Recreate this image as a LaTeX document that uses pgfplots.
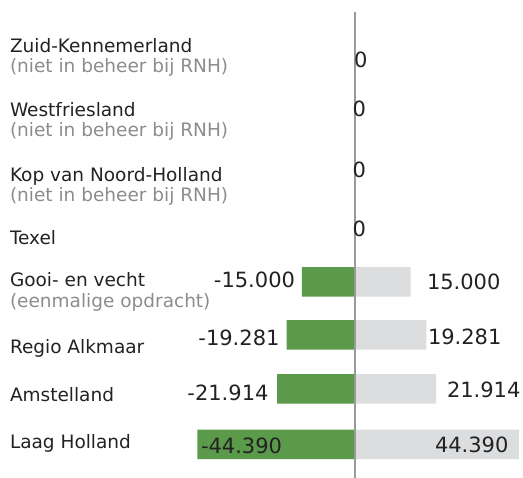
\documentclass[border=0pt]{standalone}
\usepackage{fontspec}
\setmainfont{DejaVu Sans}
\usepackage{pgfplots}
\pgfplotsset{compat=1.18}
\definecolor{barG}{HTML}{5B9A4A}
\definecolor{barY}{HTML}{DCDDDF}
\definecolor{txt}{HTML}{222222}
\definecolor{sub}{HTML}{8C8C8C}
\definecolor{axl}{HTML}{9A9A9A}
\newcommand{\cat}{\fontsize{18.5}{22}\selectfont}
\newcommand{\val}{\fontsize{21}{25}\selectfont}
\begin{document}
\begin{tikzpicture}
\path[use as bounding box] (0,0) rectangle (523pt,478pt);
% left (negative) bars
\begin{axis}[at={(0,0)},anchor=south west,width=523pt,height=478pt,scale only axis,hide axis,
  xmin=-100,xmax=47.324,ymin=-478,ymax=0,clip=false]
\addplot[xbar,bar width=29.5,bar shift=0pt,fill=barG,draw=none] coordinates {
(-15.000,-282) (-19.281,-335) (-21.914,-389) (-44.390,-444.5)};
\end{axis}
% right (positive) bars
\begin{axis}[at={(0,0)},anchor=south west,width=523pt,height=478pt,scale only axis,hide axis,
  xmin=-95.946,xmax=45.405,ymin=-478,ymax=0,clip=false]
\addplot[xbar,bar width=29.5,bar shift=0pt,fill=barY,draw=none] coordinates {
(15.000,-282) (19.281,-335) (21.914,-389) (44.390,-444.5)};
\addplot[axl,line width=2pt,mark=none] coordinates {(0,-12) (0,-478)};
\end{axis}
\begin{scope}[every node/.style={inner sep=0pt,outer sep=0pt}]
% category labels
\node[anchor=base west,text=txt] at (10pt,{(478-53)*1pt}) {\cat Zuid-Kennemerland};
\node[anchor=base west,text=sub] at (10pt,{(478-73)*1pt}) {\cat (niet in beheer bij RNH)};
\node[anchor=base west,text=txt] at (10pt,{(478-117)*1pt}) {\cat Westfriesland};
\node[anchor=base west,text=sub] at (10pt,{(478-137)*1pt}) {\cat (niet in beheer bij RNH)};
\node[anchor=base west,text=txt] at (10pt,{(478-182)*1pt}) {\cat Kop van Noord-Holland};
\node[anchor=base west,text=sub] at (10pt,{(478-202)*1pt}) {\cat (niet in beheer bij RNH)};
\node[anchor=base west,text=txt] at (10pt,{(478-245)*1pt}) {\cat Texel};
\node[anchor=base west,text=txt] at (10pt,{(478-287)*1pt}) {\cat Gooi- en vecht};
\node[anchor=base west,text=sub] at (10pt,{(478-308)*1pt}) {\cat (eenmalige opdracht)};
\node[anchor=base west,text=txt] at (10pt,{(478-354)*1pt}) {\cat Regio Alkmaar};
\node[anchor=base west,text=txt] at (10pt,{(478-402)*1pt}) {\cat Amstelland};
\node[anchor=base west,text=txt] at (10pt,{(478-449)*1pt}) {\cat Laag Holland};
% value labels
\node[anchor=base east,text=txt] at (295pt,{(478-288)*1pt}) {\val -15.000};
\node[anchor=base east,text=txt] at (279.5pt,{(478-345.7)*1pt}) {\val -19.281};
\node[anchor=base east,text=txt] at (268.5pt,{(478-400.7)*1pt}) {\val -21.914};
\node[anchor=base west,text=txt] at (201pt,{(478-453.3)*1pt}) {\val -44.390};
\node[anchor=base west,text=txt] at (427pt,{(478-289.3)*1pt}) {\val 15.000};
\node[anchor=base west,text=txt] at (428pt,{(478-345)*1pt}) {\val 19.281};
\node[anchor=base west,text=txt] at (447pt,{(478-397.3)*1pt}) {\val 21.914};
\node[anchor=base west,text=txt] at (435pt,{(478-452.7)*1pt}) {\val 44.390};
\node[anchor=base west,text=txt] at (354pt,{(478-68)*1pt}) {\val 0};
\node[anchor=base west,text=txt] at (352.5pt,{(478-117)*1pt}) {\val 0};
\node[anchor=base west,text=txt] at (352.5pt,{(478-178)*1pt}) {\val 0};
\node[anchor=base west,text=txt] at (352.5pt,{(478-237)*1pt}) {\val 0};
\end{scope}
\end{tikzpicture}
\end{document}
